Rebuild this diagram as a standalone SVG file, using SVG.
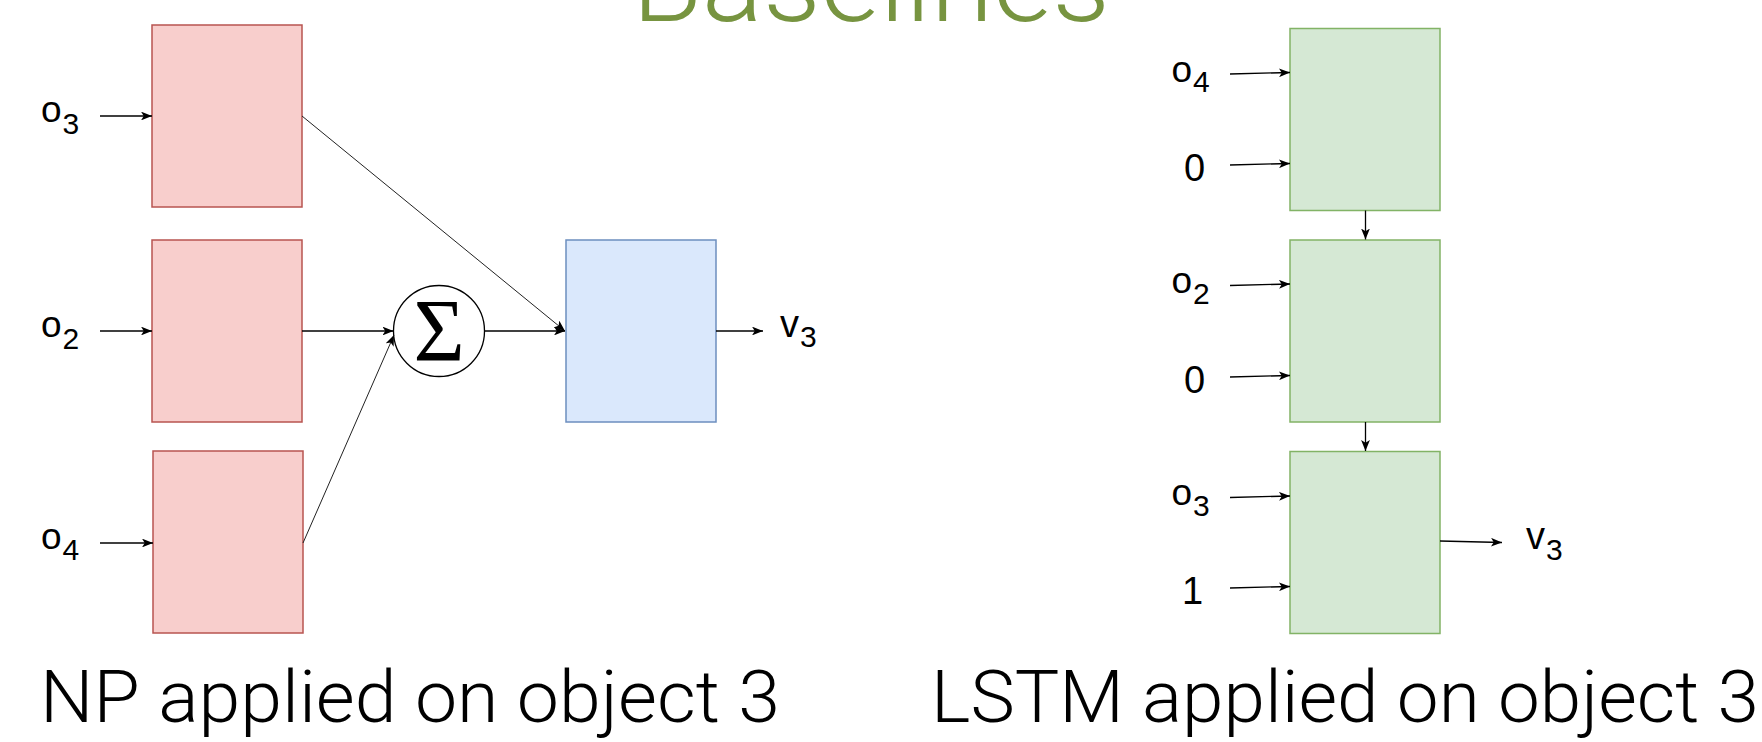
<svg xmlns="http://www.w3.org/2000/svg" width="1762" height="742" viewBox="0 0 1762 742">
<style>
.red{fill:#f8cecc;stroke:#b85450;stroke-width:1.5}
.blue{fill:#dae8fc;stroke:#6c8ebf;stroke-width:1.5}
.green{fill:#d5e8d4;stroke:#82b366;stroke-width:1.5}
.lbl{font-family:"Liberation Sans",Arial,sans-serif;fill:#000}
.cap{font-family:Roboto,"Liberation Sans",sans-serif;font-weight:300;font-size:72px;fill:#000}
.edge{stroke:#000;stroke-width:1.3;fill:none;marker-end:url(#arr)}
.thin{stroke:#222;stroke-width:1}
</style>
<defs>
<marker id="arr" markerUnits="userSpaceOnUse" viewBox="0 0 10 8" refX="10" refY="4" markerWidth="11" markerHeight="8.8" orient="auto">
<path d="M0,0 L10,4 L0,8 L2.5,4 z" fill="#000"/>
</marker>
</defs>
<rect width="1762" height="742" fill="#fff"/>
<text id="title" x="632" y="21" font-family="Roboto,'Liberation Sans',sans-serif" font-weight="300" font-size="110" fill="#779440" textLength="478" lengthAdjust="spacingAndGlyphs">Baselines</text>

<g id="np-box-o3"><rect class="red" x="152" y="25" width="150" height="182"/></g>
<g id="np-box-o2"><rect class="red" x="152" y="240" width="150" height="182"/></g>
<g id="np-box-o4"><rect class="red" x="153" y="451" width="150" height="182"/></g>
<g id="np-out"><rect class="blue" x="566" y="240" width="150" height="182"/></g>
<g id="sum">
<circle cx="439" cy="331" r="45.5" fill="#fff" stroke="#000" stroke-width="1.3"/>
<text x="439" y="360" text-anchor="middle" font-family="'Liberation Serif','DejaVu Serif',serif" font-size="88" fill="#000">Σ</text>
</g>

<g id="np-labels" class="lbl">
<text x="41" y="121.5" font-size="37">o<tspan font-size="30" dx="1" dy="12">3</tspan></text>
<text x="41" y="337" font-size="37">o<tspan font-size="30" dx="1" dy="12">2</tspan></text>
<text x="41" y="548.5" font-size="37">o<tspan font-size="30" dx="1" dy="11">4</tspan></text>
<text x="780" y="337" font-size="38">v<tspan font-size="30" dx="1" dy="10">3</tspan></text>
</g>

<g id="lstm-labels" class="lbl">
<text x="1171.5" y="81.5" font-size="37">o<tspan font-size="30" dx="1" dy="10.5">4</tspan></text>
<text x="1184" y="180.5" font-size="38">0</text>
<text x="1171.5" y="293" font-size="37">o<tspan font-size="30" dx="1" dy="10.5">2</tspan></text>
<text x="1184" y="392.5" font-size="38">0</text>
<text x="1171.5" y="505" font-size="37">o<tspan font-size="30" dx="1" dy="10.5">3</tspan></text>
<text x="1182" y="603.5" font-size="38">1</text>
<text x="1526" y="549" font-size="38">v<tspan font-size="30" dx="1" dy="11">3</tspan></text>
</g>

<g id="lstm-box-1"><rect class="green" x="1290" y="28.5" width="150" height="182"/></g>
<g id="lstm-box-2"><rect class="green" x="1290" y="240" width="150" height="182"/></g>
<g id="lstm-box-3"><rect class="green" x="1290" y="451.5" width="150" height="182"/></g>

<g id="connectors">
<line class="edge" x1="100" y1="116" x2="152" y2="116"/>
<line class="edge" x1="100" y1="331" x2="152" y2="331"/>
<line class="edge" x1="100" y1="543" x2="153" y2="543"/>
<line class="edge thin" x1="302" y1="116" x2="565" y2="331"/>
<line class="edge" x1="302" y1="331" x2="393.5" y2="331"/>
<line class="edge thin" x1="303" y1="543" x2="394" y2="335"/>
<line class="edge" x1="484.5" y1="331" x2="565" y2="331"/>
<line class="edge" x1="716" y1="331" x2="763" y2="331"/>

<line class="edge" x1="1230" y1="74" x2="1290" y2="72.5"/>
<line class="edge" x1="1230" y1="165" x2="1290" y2="163.5"/>
<line class="edge" x1="1230" y1="285.5" x2="1290" y2="284"/>
<line class="edge" x1="1230" y1="377" x2="1290" y2="375.5"/>
<line class="edge" x1="1230" y1="497.5" x2="1290" y2="496"/>
<line class="edge" x1="1230" y1="588" x2="1290" y2="586.5"/>
<line class="edge" x1="1440" y1="541" x2="1502" y2="542.5"/>
<line class="edge" x1="1365.5" y1="210.5" x2="1365.5" y2="239.5"/>
<line class="edge" x1="1365.5" y1="422" x2="1365.5" y2="451"/>
</g>

<text id="cap-np" class="cap" x="40" y="721.5" textLength="740" lengthAdjust="spacingAndGlyphs">NP applied on object 3</text>
<text id="cap-lstm" class="cap" x="931" y="721.5" textLength="828" lengthAdjust="spacingAndGlyphs">LSTM applied on object 3</text>
</svg>
